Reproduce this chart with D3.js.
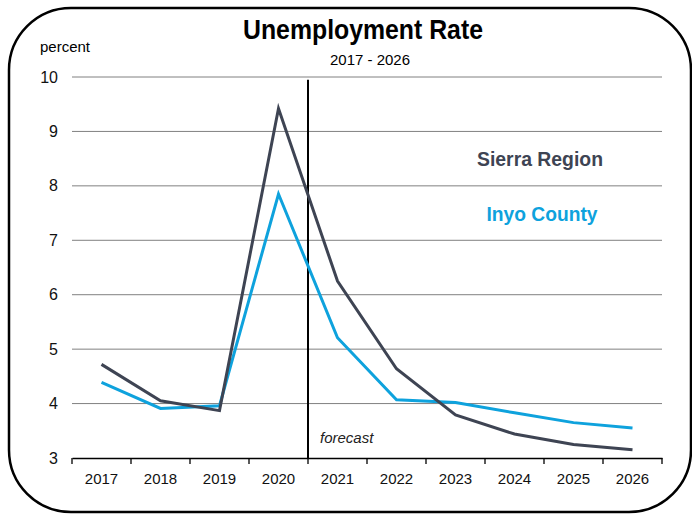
<!DOCTYPE html>
<html>
<head>
<meta charset="utf-8">
<script src="https://cdn.jsdelivr.net/npm/d3@7"></script>
<style>
  body { margin: 0; background: #fff; }
  svg text { font-family: "Liberation Sans", Arial, sans-serif; }
</style>
</head>
<body>
<svg width="692" height="514"></svg>
<script>
const years = ["2017", "2018", "2019", "2020", "2021", "2022", "2023", "2024", "2025", "2026"];
const sierraRegion = [4.72, 4.05, 3.87, 9.42, 6.25, 4.64, 3.79, 3.44, 3.25, 3.15];
const inyoCounty = [4.39, 3.91, 3.96, 7.85, 5.21, 4.07, 4.02, 3.83, 3.65, 3.55];
const yTicks = [3, 4, 5, 6, 7, 8, 9, 10];

const svg = d3.select("svg");

// rounded frame
svg.append("rect")
   .attr("x", 9).attr("y", 8)
   .attr("width", 682).attr("height", 504)
   .attr("rx", 62).attr("ry", 62)
   .attr("fill", "none")
   .attr("stroke", "#000")
   .attr("stroke-width", 2.5);

const plotLeft = 72, plotRight = 662, plotTop = 77, plotBottom = 458;

const xScale = d3.scaleBand().domain(years).range([plotLeft, plotRight]);
const yScale = d3.scaleLinear().domain([3, 10]).range([plotBottom, plotTop]);

// gridlines
svg.append("g")
   .selectAll("line")
   .data(yTicks.filter(d => d > 3))
   .enter()
   .append("line")
   .attr("x1", plotLeft).attr("x2", plotRight)
   .attr("y1", d => yScale(d)).attr("y2", d => yScale(d))
   .attr("stroke", "#808080")
   .attr("stroke-width", 1);

// y axis labels
const yAxis = svg.append("g")
   .attr("transform", `translate(${plotLeft}, 0)`)
   .call(d3.axisLeft(yScale).tickValues(yTicks).tickFormat(d3.format("d"))
           .tickSize(0).tickPadding(14));
yAxis.select(".domain").remove();
yAxis.selectAll("text").attr("font-size", 16).attr("fill", "#111")
     .style("font-family", "'Liberation Sans', Arial, sans-serif");

// x axis
const xAxis = svg.append("g")
   .attr("transform", `translate(0, ${plotBottom})`)
   .call(d3.axisBottom(xScale).tickSize(0).tickPadding(15));
xAxis.select(".domain").attr("stroke", "#000").attr("stroke-width", 1.3);
xAxis.selectAll("text").attr("font-size", 15).attr("fill", "#111")
     .style("font-family", "'Liberation Sans', Arial, sans-serif");

// tick marks at band edges
const edges = years.map(d => xScale(d)).concat([plotRight]);
svg.append("g")
   .selectAll("line")
   .data(edges)
   .enter()
   .append("line")
   .attr("x1", d => d).attr("x2", d => d)
   .attr("y1", plotBottom).attr("y2", plotBottom + 6)
   .attr("stroke", "#000")
   .attr("stroke-width", 1.3);

// forecast divider
const forecastX = xScale("2021");
svg.append("line")
   .attr("x1", forecastX).attr("x2", forecastX)
   .attr("y1", yScale(9.95)).attr("y2", plotBottom)
   .attr("stroke", "#000")
   .attr("stroke-width", 2);

svg.append("text")
   .attr("x", forecastX + 12)
   .attr("y", plotBottom - 15)
   .attr("font-size", 15)
   .attr("font-style", "italic")
   .attr("fill", "#222")
   .text("forecast");

// lines
const line = d3.line()
   .x((d, i) => xScale(years[i]) + xScale.bandwidth() / 2)
   .y(d => yScale(d));

svg.append("path")
   .datum(inyoCounty)
   .attr("d", line)
   .attr("fill", "none")
   .attr("stroke", "#0ea2dd")
   .attr("stroke-width", 3);

svg.append("path")
   .datum(sierraRegion)
   .attr("d", line)
   .attr("fill", "none")
   .attr("stroke", "#3e4453")
   .attr("stroke-width", 3);

// titles
svg.append("text")
   .attr("x", 363).attr("y", 39)
   .attr("text-anchor", "middle")
   .attr("font-size", 28)
   .attr("font-weight", "bold")
   .attr("fill", "#000")
   .attr("textLength", 240)
   .attr("lengthAdjust", "spacingAndGlyphs")
   .text("Unemployment Rate");

svg.append("text")
   .attr("x", 370).attr("y", 65)
   .attr("text-anchor", "middle")
   .attr("font-size", 15)
   .attr("fill", "#000")
   .text("2017 - 2026");

svg.append("text")
   .attr("x", 40).attr("y", 52)
   .attr("font-size", 15)
   .attr("fill", "#000")
   .text("percent");

// legend text
svg.append("text")
   .attr("x", 540).attr("y", 166)
   .attr("text-anchor", "middle")
   .attr("font-size", 21)
   .attr("font-weight", "bold")
   .attr("fill", "#3e4453")
   .attr("textLength", 126)
   .attr("lengthAdjust", "spacingAndGlyphs")
   .text("Sierra Region");

svg.append("text")
   .attr("x", 542).attr("y", 221)
   .attr("text-anchor", "middle")
   .attr("font-size", 21)
   .attr("font-weight", "bold")
   .attr("fill", "#0ea2dd")
   .attr("textLength", 111)
   .attr("lengthAdjust", "spacingAndGlyphs")
   .text("Inyo County");
</script>
</body>
</html>
